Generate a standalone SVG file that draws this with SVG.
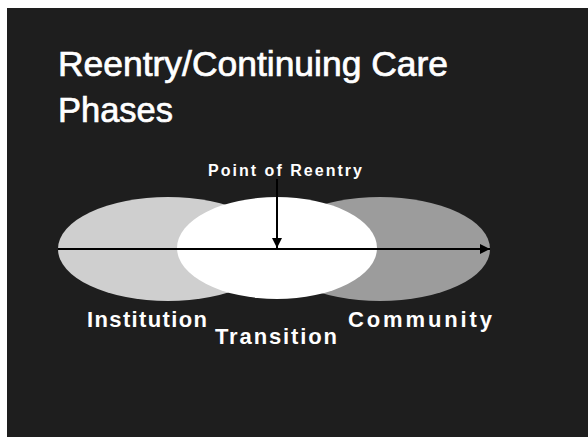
<svg xmlns="http://www.w3.org/2000/svg" width="588" height="437" viewBox="0 0 588 437">
  <style>
    .title { font-family: "Liberation Sans", Arial, sans-serif; font-size: 35px; fill: #ffffff; stroke: #ffffff; stroke-width: 0.7px; }
    .label { font-family: "Liberation Sans", Arial, sans-serif; font-size: 22px; font-weight: bold; fill: #ffffff; }
    .small { font-family: "Liberation Sans", Arial, sans-serif; font-size: 16px; font-weight: bold; fill: #ffffff; }
    .conn { stroke: #000000; stroke-width: 2; fill: none; }
  </style>
  <defs>
    <marker id="arrow" viewBox="0 0 10 10" refX="10" refY="5" markerWidth="6" markerHeight="5" markerUnits="strokeWidth" orient="auto">
      <path d="M0,0 L10,5 L0,10 Z" fill="#000000"/>
    </marker>
  </defs>
  <rect x="0" y="0" width="588" height="437" fill="#ffffff"/>
  <rect x="7" y="8" width="581" height="429" fill="#1e1e1e"/>

  <g id="title">
    <text class="title" x="58" y="76" textLength="390" lengthAdjust="spacingAndGlyphs">Reentry/Continuing Care</text>
    <text class="title" x="58" y="122" textLength="115" lengthAdjust="spacingAndGlyphs">Phases</text>
  </g>

  <g id="institution">
    <ellipse cx="168" cy="249" rx="110" ry="52" fill="#cfcfcf"/>
    <text class="label" x="87" y="327" textLength="120" lengthAdjust="spacing">Institution</text>
  </g>

  <g id="community">
    <ellipse cx="380" cy="249" rx="110" ry="52" fill="#9c9c9c"/>
    <text class="label" x="348" y="327" textLength="144" lengthAdjust="spacing">Community</text>
  </g>

  <g id="transition">
    <ellipse cx="277" cy="248" rx="100" ry="51" fill="#ffffff"/>
    <text class="label" x="215" y="344" textLength="122" lengthAdjust="spacing">Transition</text>
  </g>

  <g id="point-of-reentry">
    <text class="small" x="208" y="176" textLength="154" lengthAdjust="spacing">Point of Reentry</text>
  </g>

  <g id="connectors">
    <line class="conn" x1="58" y1="249" x2="490" y2="249" marker-end="url(#arrow)"/>
    <line class="conn" x1="277" y1="179" x2="277" y2="248" marker-end="url(#arrow)"/>
  </g>
</svg>
